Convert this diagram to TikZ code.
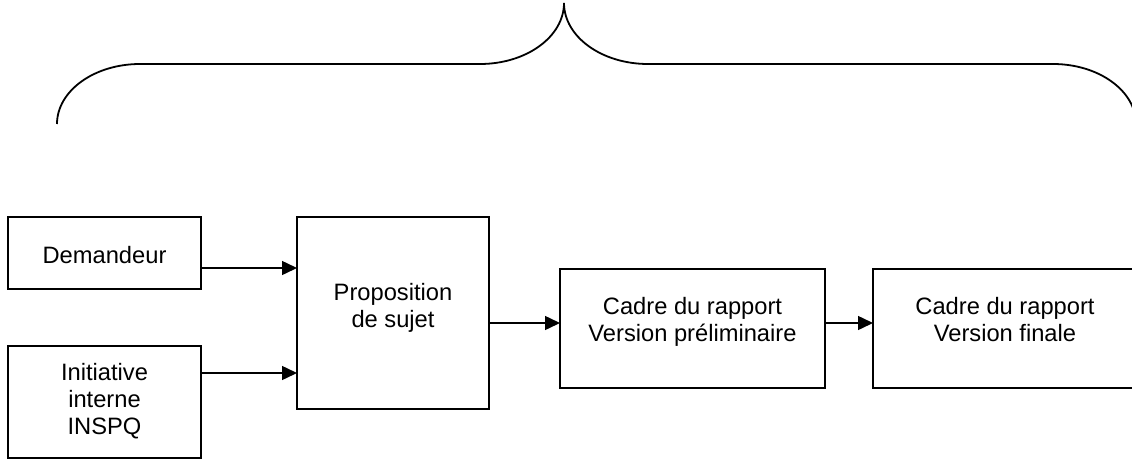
\documentclass[tikz,border=0pt]{standalone}
\usepackage{fontspec}
\setmainfont{Liberation Sans}
\usetikzlibrary{arrows.meta,calc}
\begin{document}
\begin{tikzpicture}[x=1pt,y=-1pt,
  boxst/.style={draw=black,line width=1.8pt,rectangle,inner sep=0pt,outer sep=0pt},
  txt/.style={font=\fontsize{23.7}{26.7}\selectfont,align=center,inner sep=0pt,anchor=base},
  arr/.style={line width=1.5pt,-{Triangle[length=15pt,width=14pt]}},
  bracest/.style={line width=1.8pt}]
\useasboundingbox (0,0) rectangle (1132,460);
% brace
\coordinate (bl) at (57,124);
\coordinate (br) at (1136,124);
\coordinate (tip) at (564,3);
\draw[bracest] (bl) .. controls (57,90.9) and (94.2,64) .. (140,64)
  -- (480,64) .. controls (526.4,64) and (564,36.7) .. (tip)
  .. controls (564,36.7) and (601.6,64) .. (648,64)
  -- (1053,64) .. controls (1098.8,64) and (1136,90.9) .. (br);
% boxes
\node[boxst,minimum width=193pt,minimum height=72pt] (dem) at (104.5,253) {};
\node[boxst,minimum width=193pt,minimum height=112pt] (ini) at (104.5,402) {};
\node[boxst,minimum width=192pt,minimum height=192pt] (prop) at (393,313) {};
\node[boxst,minimum width=265pt,minimum height=119pt] (prel) at (692.5,328.5) {};
\node[boxst,minimum width=264pt,minimum height=119pt] (fin) at (1005,328.5) {};
% texts (anchored at the baseline of the last line)
\node[txt] (demT) at (104.5,263.5) {Demandeur};
\node[txt] (iniT) at (104.5,434) {Initiative\\interne\\INSPQ};
\node[txt] (propT) at (393,327.5) {Proposition\\de sujet};
\node[txt] (prelT) at (692.5,341) {Cadre du rapport\\Version préliminaire};
\node[txt] (finT) at (1005,341) {Cadre du rapport\\Version finale};
% arrows
\coordinate (a1) at ($(dem.east)+(0,15)$);
\draw[arr] (a1) -- (a1 -| prop.west);
\coordinate (a2) at ($(ini.east)+(0,-29)$);
\draw[arr] (a2) -- (a2 -| prop.west);
\coordinate (a3) at ($(prop.east)+(0,10)$);
\draw[arr] (a3) -- (a3 -| prel.west);
\coordinate (a4) at ($(prel.east)+(0,-5.5)$);
\draw[arr] (a4) -- (a4 -| fin.west);
\end{tikzpicture}
\end{document}
